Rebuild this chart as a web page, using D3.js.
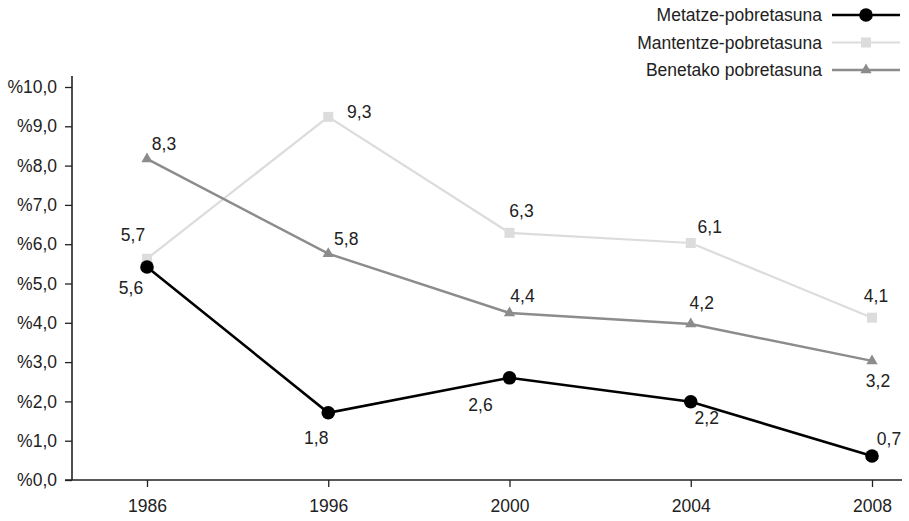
<!DOCTYPE html>
<html>
<head>
<meta charset="utf-8">
<script src="https://cdn.jsdelivr.net/npm/d3@7"></script>
<style>
  body { margin: 0; background: #fff; }
  svg { display: block; font-family: "Liberation Sans", Arial, sans-serif; }
</style>
</head>
<body>
<div id="wrapper"></div>
<script>
// years on the x axis
const years = ["1986", "1996", "2000", "2004", "2008"];
// plotted values
const metatze = [5.42, 1.71, 2.60, 1.99, 0.61];
const mantentze = [5.63, 9.24, 6.29, 6.03, 4.13];
const benetako = [8.17, 5.76, 4.25, 3.97, 3.03];
// printed value labels
const metatzeLabels = ["5,6", "1,8", "2,6", "2,2", "0,7"];
const mantentzeLabels = ["5,7", "9,3", "6,3", "6,1", "4,1"];
const benetakoLabels = ["8,3", "5,8", "4,4", "4,2", "3,2"];
const seriesNames = ["Metatze-pobretasuna", "Mantentze-pobretasuna", "Benetako pobretasuna"];
const yTicks = [0, 1, 2, 3, 4, 5, 6, 7, 8, 9, 10];

const dimensions = {
  width: 909,
  height: 521,
  margin: { top: 87, right: 7, bottom: 41, left: 72 }
};
dimensions.boundedWidth = dimensions.width - dimensions.margin.left - dimensions.margin.right;
dimensions.boundedHeight = dimensions.height - dimensions.margin.top - dimensions.margin.bottom;

const fontSize = "17.5px";
const textColor = "#222";

const svg = d3.select("#wrapper")
  .append("svg")
  .attr("width", dimensions.width)
  .attr("height", dimensions.height);

const bounds = svg.append("g")
  .attr("transform", `translate(${dimensions.margin.left},${dimensions.margin.top})`);

// first year ~75px in from the y axis, last year ~30px before the axis end
const xScale = d3.scalePoint()
  .domain(years)
  .range([75, dimensions.boundedWidth - 30]);

const yScale = d3.scaleLinear()
  .domain([0, 10])
  .range([dimensions.boundedHeight, 0]);

const series = [
  { name: seriesNames[0], values: metatze, labels: metatzeLabels, color: "#000", width: 2.6, symbol: "circle",
    // label offsets (dx, dy) from the marker
    offsets: [[-16, 21], [-12, 25], [-29, 27], [16, 16], [17, -17]] },
  { name: seriesNames[1], values: mantentze, labels: mantentzeLabels, color: "#dcdcdc", width: 2.2, symbol: "square",
    offsets: [[-14, -24], [31, -5], [12, -22], [19, -16], [4, -22]] },
  { name: seriesNames[2], values: benetako, labels: benetakoLabels, color: "#8c8c8c", width: 2.4, symbol: "triangle",
    offsets: [[17, -15], [18, -15], [13, -17], [11, -21], [6, 20]] }
];

function drawSymbol(g, type, color) {
  if (type === "circle") {
    g.append("circle").attr("r", 6.8).attr("fill", color);
  } else if (type === "square") {
    g.append("rect").attr("x", -5).attr("y", -5).attr("width", 10).attr("height", 10).attr("fill", color);
  } else {
    g.append("path").attr("d", d3.symbol(d3.symbolTriangle, 55)()).attr("fill", color);
  }
}

// axes
const yAxis = bounds.append("g")
  .call(d3.axisLeft(yScale).tickValues(yTicks).tickSize(7).tickPadding(8)
    .tickFormat(d => "%" + d3.format(".1f")(d).replace(".", ",")));
yAxis.select(".domain").attr("d", `M0,-11V${dimensions.boundedHeight}`);

const xAxis = bounds.append("g")
  .attr("transform", `translate(0,${dimensions.boundedHeight})`)
  .call(d3.axisBottom(xScale).tickSize(7).tickPadding(13));
xAxis.select(".domain").attr("d", `M-7,0H${dimensions.boundedWidth}`);

[yAxis, xAxis].forEach(ax => {
  ax.selectAll(".domain").attr("stroke", "#222").attr("stroke-width", 1.6);
  ax.selectAll(".tick line").attr("stroke", "#222").attr("stroke-width", 1.3);
  ax.selectAll("text").attr("fill", textColor)
    .style("font-size", fontSize)
    .style("font-family", "'Liberation Sans', Arial, sans-serif");
});

const lineGenerator = d3.line()
  .x((d, i) => xScale(years[i]))
  .y(d => yScale(d));

// draw light series first so dark ones sit on top
[1, 2, 0].forEach(k => {
  const s = series[k];
  const g = bounds.append("g");
  g.append("path")
    .attr("d", lineGenerator(s.values))
    .attr("fill", "none")
    .attr("stroke", s.color)
    .attr("stroke-width", s.width);
  s.values.forEach((v, i) => {
    const m = g.append("g")
      .attr("transform", `translate(${xScale(years[i])},${yScale(v)})`);
    drawSymbol(m, s.symbol, s.color);
  });
});

series.forEach(s => {
  bounds.append("g")
    .selectAll("text")
    .data(s.values)
    .join("text")
    .attr("x", (d, i) => xScale(years[i]) + s.offsets[i][0])
    .attr("y", (d, i) => yScale(d) + s.offsets[i][1])
    .attr("text-anchor", "middle")
    .attr("dominant-baseline", "central")
    .attr("fill", textColor)
    .style("font-size", fontSize)
    .text((d, i) => s.labels[i]);
});

// legend, top right
const legend = svg.append("g")
  .attr("transform", "translate(832,15)");
series.forEach((s, i) => {
  const row = legend.append("g").attr("transform", `translate(0,${i * 27.5})`);
  row.append("line")
    .attr("x1", 0).attr("x2", 68)
    .attr("stroke", s.color)
    .attr("stroke-width", s.width);
  const m = row.append("g").attr("transform", "translate(34,0)");
  drawSymbol(m, s.symbol, s.color);
  row.append("text")
    .attr("x", -10)
    .attr("dominant-baseline", "central")
    .attr("text-anchor", "end")
    .attr("fill", textColor)
    .style("font-size", fontSize)
    .text(s.name);
});
</script>
</body>
</html>
